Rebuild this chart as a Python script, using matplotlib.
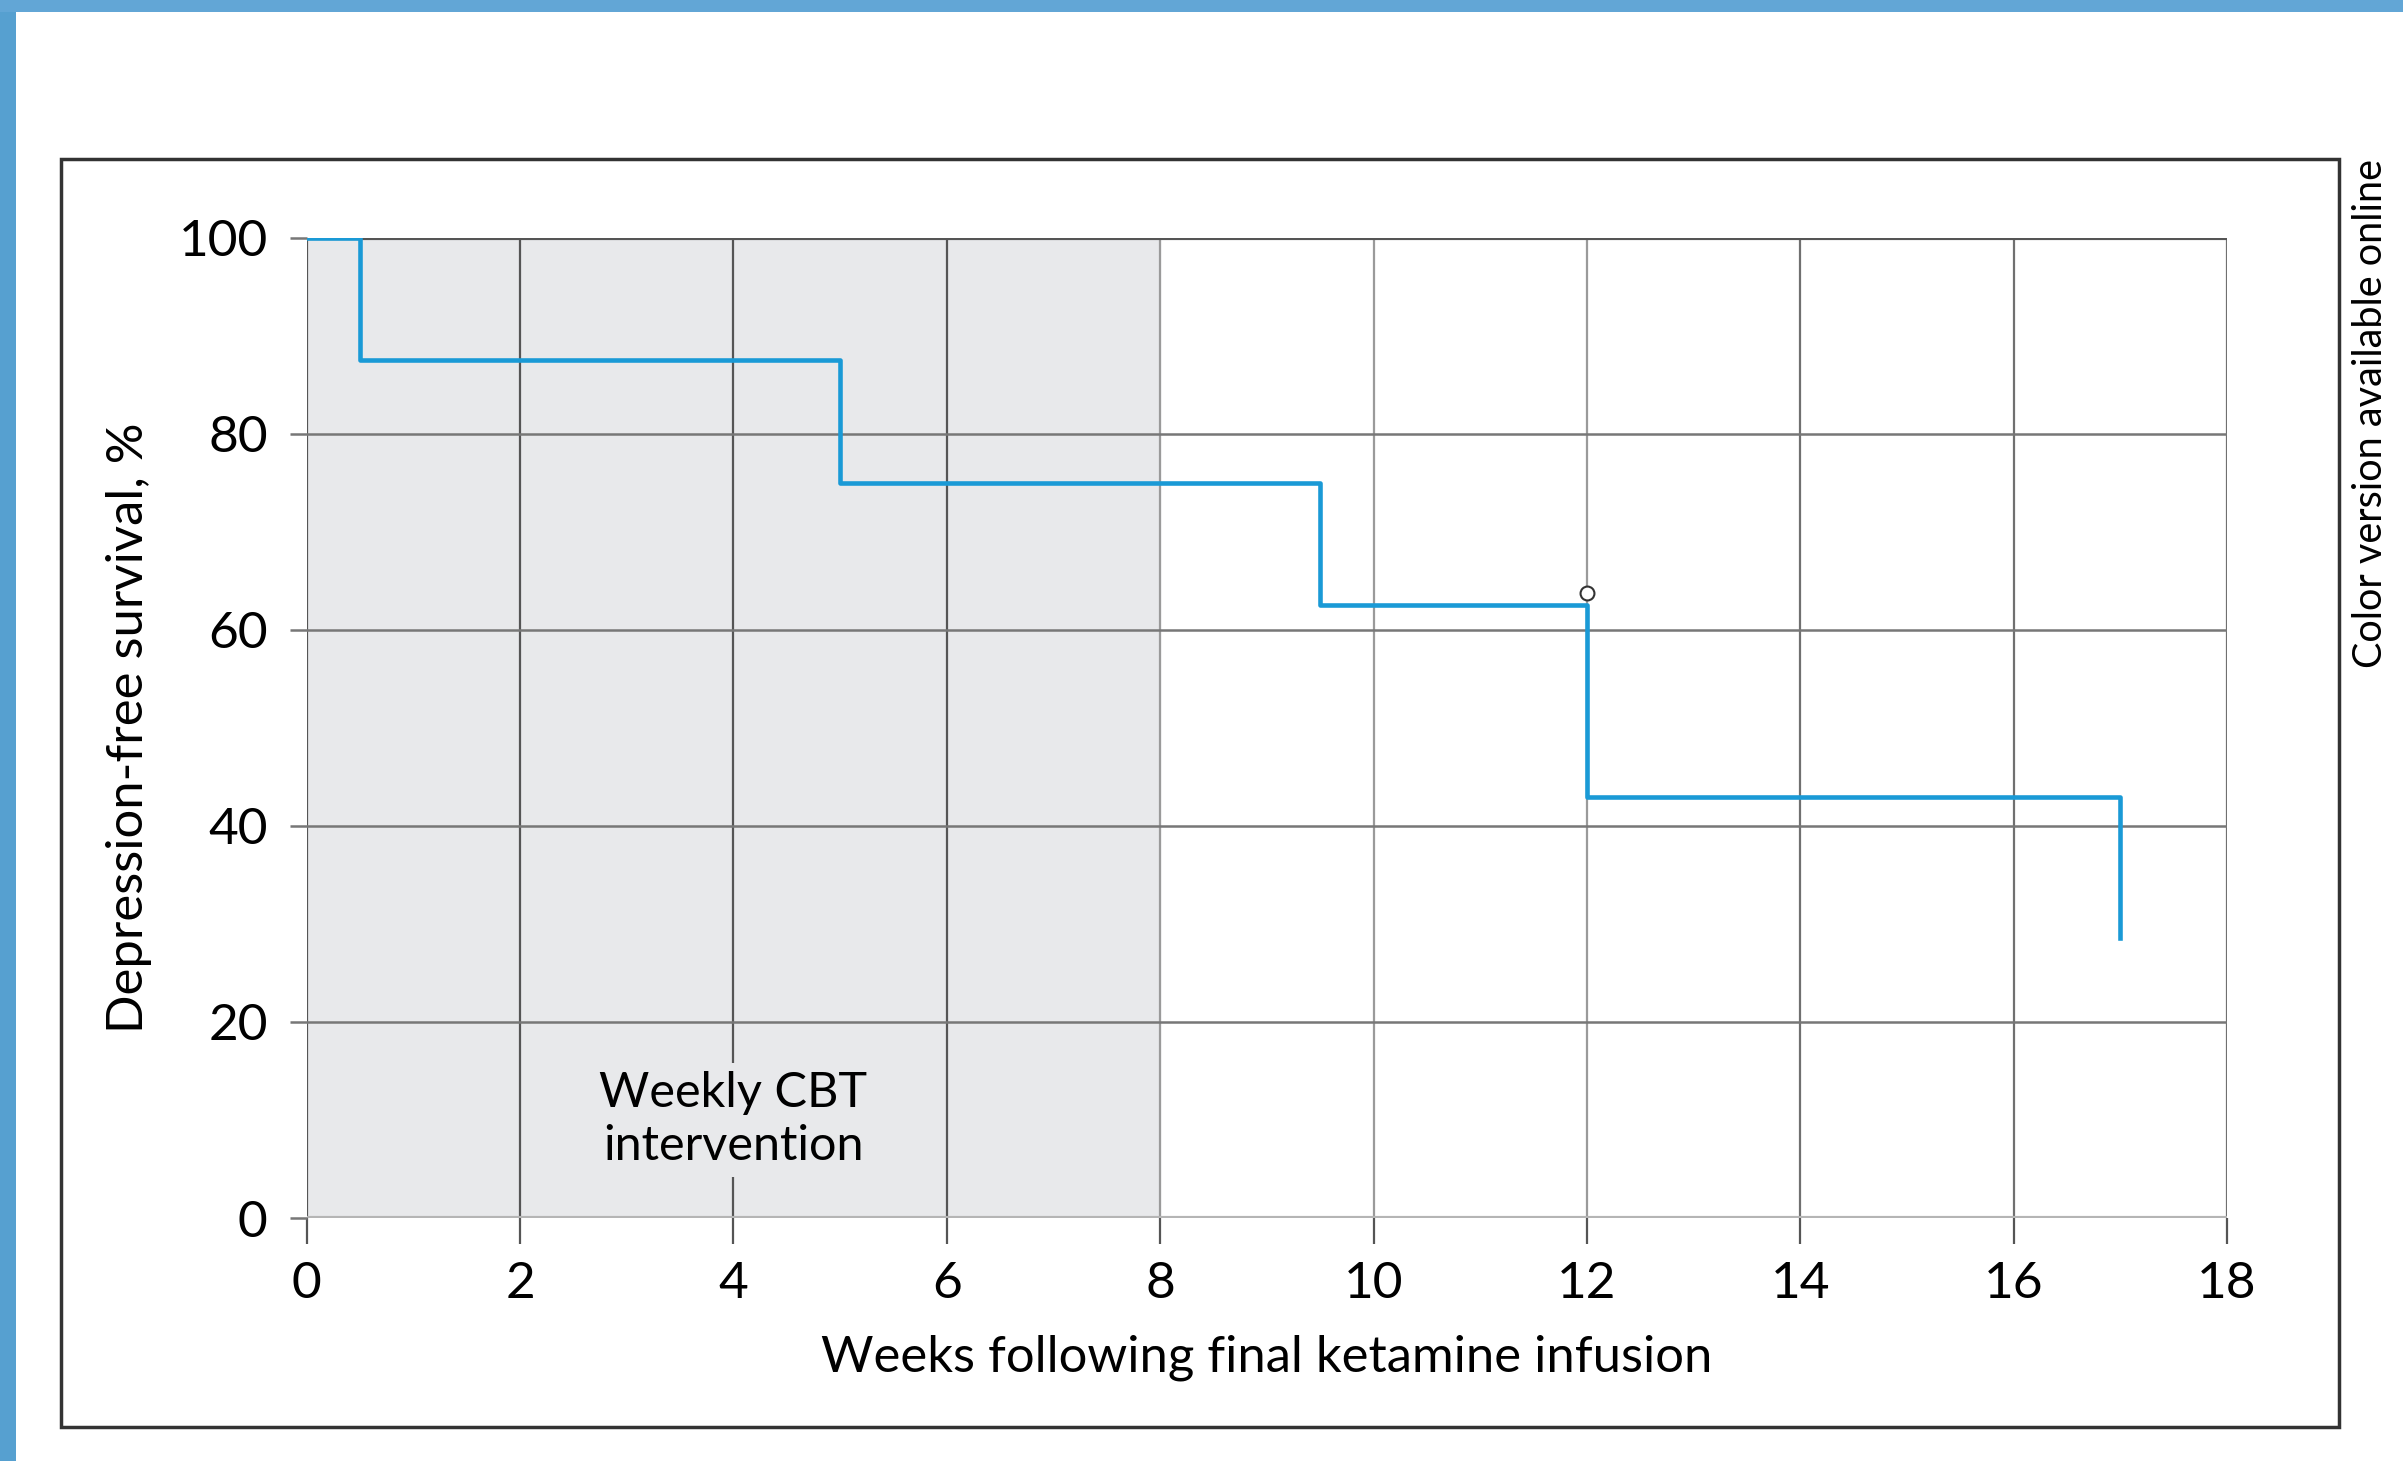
import matplotlib
matplotlib.use("Agg")
import matplotlib.pyplot as plt
from matplotlib.patches import Rectangle

plt.rcParams['font.family'] = ['Lato', 'DejaVu Sans']

# Kaplan-Meier steps: depression-free survival (%) after the final infusion
weeks = [0, 0.5, 5, 9.5, 12, 17]
survival = [100, 87.5, 75, 62.5, 42.9, 28.6]
censor_weeks = [12]
censor_survival = [63.7]

x_ticks = [0, 2, 4, 6, 8, 10, 12, 14, 16, 18]
y_ticks = [0, 20, 40, 60, 80, 100]
cbt_start, cbt_end = 0, 8

line_blue = '#1a9ad6'

fig = plt.figure(figsize=(24.03, 14.61), dpi=100)
fig.patch.set_facecolor('white')

# blue page edges
fig.patches.append(Rectangle((0, 0), 0.0065, 1, transform=fig.transFigure,
                             facecolor='#56a0d0', edgecolor='none', zorder=0))
fig.patches.append(Rectangle((0, 0.9918), 1, 0.0082, transform=fig.transFigure,
                             facecolor='#62a6d6', edgecolor='none', zorder=0))
# box around the figure
fig.patches.append(Rectangle((0.0254, 0.0233), 0.948, 0.8679, transform=fig.transFigure,
                             facecolor='none', edgecolor='#333333', lw=2.5, zorder=1))

ax = fig.add_axes([0.1276, 0.1663, 0.7992, 0.6711])
ax.set_xlim(0, 18)
ax.set_ylim(0, 100)

# shaded CBT period
ax.axvspan(cbt_start, cbt_end, color='#e8e9eb', zorder=0)

# grid lines
for x in x_ticks:
    c = '#555555' if x < cbt_end else ('#9a9a9a' if x in (8, 10, 12) else '#707070')
    ax.axvline(x, color=c, lw=1.6, zorder=1)
for y in y_ticks[1:-1]:
    ax.axhline(y, color='#777777', lw=1.8, zorder=1)
ax.axhline(0, color='#b5b5b5', lw=3, zorder=1)
ax.axhline(100, color='#555555', lw=3, zorder=1)

for s in ax.spines.values():
    s.set_visible(False)

ax.set_xticks(x_ticks)
ax.set_yticks(y_ticks)
ax.tick_params(axis='x', length=19, width=1.6, color='#555555', pad=12, labelsize=37)
ax.tick_params(axis='y', length=12, width=1.8, color='#777777', pad=16, labelsize=37)

ax.step(weeks, survival, where='post', color=line_blue, lw=3.3, zorder=3)
ax.plot(censor_weeks, censor_survival, 'o', ms=10, mfc='white', mec='#333333', mew=1.5, zorder=4)

ax.text(4, 10, 'Weekly CBT\nintervention', ha='center', va='center', fontsize=35,
        linespacing=1.25, zorder=2,
        bbox=dict(facecolor='#e8e9eb', edgecolor='none', pad=6))

ax.set_xlabel('Weeks following final ketamine infusion', fontsize=36.5, labelpad=20)
ax.set_ylabel('Depression-free survival, %', fontsize=36.5, labelpad=19)

fig.text(0.9865, 0.8912, 'Color version available online', rotation=90,
         ha='center', va='top', fontsize=28.5)

fig.savefig('out.png', dpi=100)
